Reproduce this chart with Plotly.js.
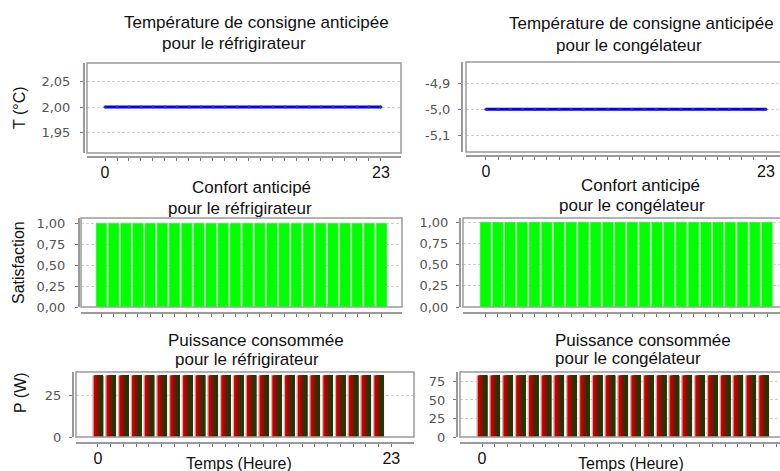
<!DOCTYPE html>
<html>
<head>
<meta charset="utf-8">
<script src="https://cdn.plot.ly/plotly-3.0.1.min.js"></script>
<style>html,body{margin:0;padding:0;background:#fff;}#chart{width:780px;height:471px;}</style>
</head>
<body>
<div id="chart"></div>
<script>
// ---------- data ----------
const hours = [0,1,2,3,4,5,6,7,8,9,10,11,12,13,14,15,16,17,18,19,20,21,22,23];
const powerHours = [0,1,2,3,4,5,6,7,8,9,10,11,12,13,14,15,16,17,18,19,20,21,22];
const tempFridge = [2.00,2.00,2.00,2.00,2.00,2.00,2.00,2.00,2.00,2.00,2.00,2.00,2.00,2.00,2.00,2.00,2.00,2.00,2.00,2.00,2.00,2.00,2.00,2.00];
const tempFreezer = [-5.0,-5.0,-5.0,-5.0,-5.0,-5.0,-5.0,-5.0,-5.0,-5.0,-5.0,-5.0,-5.0,-5.0,-5.0,-5.0,-5.0,-5.0,-5.0,-5.0,-5.0,-5.0,-5.0,-5.0];
const comfortFridge = [1,1,1,1,1,1,1,1,1,1,1,1,1,1,1,1,1,1,1,1,1,1,1,1];
const comfortFreezer = [1,1,1,1,1,1,1,1,1,1,1,1,1,1,1,1,1,1,1,1,1,1,1,1];
const powerFridge = [37,37,37,37,37,37,37,37,37,37,37,37,37,37,37,37,37,37,37,37,37,37,37];
const powerFreezer = [83,83,83,83,83,83,83,83,83,83,83,83,83,83,83,83,83,83,83,83,83,83,83];

// tick labels
const xTickLabelEnds = ['0','23'];
const tempFridgeTicks = [1.95, 2.00, 2.05];
const tempFridgeTickText = ['1,95','2,00','2,05'];
const tempFreezerTicks = [-5.1, -5.0, -4.9];
const tempFreezerTickText = ['-5,1','-5,0','-4,9'];
const comfortTicks = [0, 0.25, 0.5, 0.75, 1];
const comfortTickText = ['0,00','0,25','0,50','0,75','1,00'];
const powerFridgeTicks = [0, 25];
const powerFridgeTickText = ['0','25'];
const powerFreezerTicks = [0, 25, 50, 75];
const powerFreezerTickText = ['0','25','50','75'];

// titles
const titles = [
  ['Température de consigne anticipée', 'pour le réfrigirateur'],
  ['Température de consigne anticipée', 'pour le congélateur'],
  ['Confort anticipé', 'pour le réfrigirateur'],
  ['Confort anticipé', 'pour le congélateur'],
  ['Puissance consommée', 'pour le réfrigirateur'],
  ['Puissance consommée', 'pour le congélateur']
];
const yTitles = ['T (°C)', 'Satisfaction', 'P (W)'];
const xTitle = 'Temps (Heure)';

// ---------- layout helpers ----------
const W = 780, H = 471;
const px = v => v / W;
const py = v => 1 - v / H;

const TITLE_FONT = {family: 'Liberation Sans, Arial, sans-serif', size: 17, color: '#111'};
const AXT_FONT = {family: 'Liberation Sans, Arial, sans-serif', size: 16, color: '#111'};
const TICK_FONT = {family: 'DejaVu Sans, Verdana, sans-serif', size: 13, color: '#555'};
const FRAME = '#9a9a9a';

// panel geometry (pixels): box, y-axis line x, x-axis line y, ranges
const panels = [
  {box:[87,401,63,153],  yl:83,  xl:156, xr:[-1.5,24.67],  yr:[1.91,2.0864],   yt:tempFridgeTicks,  ytt:tempFridgeTickText,  xlabels:true,  so:7},
  {box:[466,800,62,152], yl:461, xl:155, xr:[-1.64,24.15], yr:[-5.164,-4.818], yt:tempFreezerTicks, ytt:tempFreezerTickText, xlabels:true,  so:5},
  {box:[81,402,218,307], yl:78,  xl:312, xr:[-1.68,24.68], yr:[0,1.06],        yt:comfortTicks,     ytt:comfortTickText,     xlabels:false, so:7},
  {box:[463,800,218,307],yl:459, xl:312, xr:[-1.84,24.06], yr:[0,1.047],       yt:comfortTicks,     ytt:comfortTickText,     xlabels:false, so:5},
  {box:[76,414,372,437], yl:72,  xl:442, xr:[-1.72,24.78], yr:[0,39.05],       yt:powerFridgeTicks, ytt:powerFridgeTickText, xlabels:true,  so:5},
  {box:[460,800,372,437],yl:456, xl:442, xr:[-1.72,23.29], yr:[0,87.7],        yt:powerFreezerTicks,ytt:powerFreezerTickText,xlabels:true,  so:5}
];

const layout = {
  width: W, height: H,
  margin: {l:0, r:0, t:0, b:0},
  paper_bgcolor: '#fff', plot_bgcolor: '#fff',
  showlegend: false, hovermode: false,
  barmode: 'overlay',
  shapes: [], annotations: []
};

const xTickText = hours.map(h => (h === 0 ? xTickLabelEnds[0] : (h === 23 ? xTickLabelEnds[1] : '')));

panels.forEach((p, i) => {
  const n = i + 1;
  const xk = 'xaxis' + (n === 1 ? '' : n);
  const yk = 'yaxis' + (n === 1 ? '' : n);
  const bx0 = p.box[0], bx1 = Math.min(p.box[1], W), by0 = p.box[2], by1 = p.box[3];
  layout[xk] = {
    domain: [px(bx0), px(bx1)], anchor: 'free', position: py(p.xl),
    range: p.xr, showgrid: false, zeroline: false,
    showline: true, linecolor: FRAME, linewidth: 1.5,
    ticks: 'outside', ticklen: 3, tickcolor: '#777', tickwidth: 1,
    tickmode: 'array', tickvals: hours, ticktext: xTickText,
    showticklabels: p.xlabels, ticklabelstandoff: -2,
    tickfont: {family: 'Liberation Sans, Arial, sans-serif', size: 16, color: '#111'}
  };
  layout[yk] = {
    domain: [py(by1), py(by0)], anchor: 'free', position: px(p.yl),
    range: p.yr, zeroline: false,
    showgrid: true, gridcolor: '#cfcfcf', gridwidth: 1, griddash: '3px,2px',
    showline: true, linecolor: FRAME, linewidth: 1.5,
    ticks: 'outside', ticklen: 3, tickcolor: '#777',
    tickmode: 'array', tickvals: p.yt, ticktext: p.ytt, ticklabelstandoff: p.so,
    tickfont: TICK_FONT
  };
  layout.shapes.push({type:'rect', xref:'paper', yref:'paper',
    x0: px(bx0), x1: px(p.box[1]), y0: py(by1), y1: py(by0),
    line:{color: FRAME, width: 1.5}, fillcolor:'rgba(0,0,0,0)', layer:'above'});
});

// titles (two lines each)
const titlePos = [
  [[256,23],[234,44]],
  [[641,23.5],[628.5,45.5]],
  [[251.7,187.5],[240,208]],
  [[640,185],[631.7,205]],
  [[255.8,340],[246.7,359]],
  [[642.5,340],[628,358]]
];
titles.forEach((t, i) => {
  t.forEach((line, j) => {
    layout.annotations.push({xref:'paper', yref:'paper', x: px(titlePos[i][j][0]), y: py(titlePos[i][j][1]),
      xanchor:'center', yanchor:'middle', text: line, showarrow:false, font: TITLE_FONT});
  });
});
// axis titles
[[yTitles[0],20,108],[yTitles[1],18,263],[yTitles[2],20,393]].forEach(a => {
  layout.annotations.push({xref:'paper', yref:'paper', x: px(a[1]), y: py(a[2]), xanchor:'center', yanchor:'middle',
    text: a[0], textangle: -90, showarrow:false, font: AXT_FONT});
});
[[239,463],[631,463]].forEach(a => {
  layout.annotations.push({xref:'paper', yref:'paper', x: px(a[0]), y: py(a[1]), xanchor:'center', yanchor:'middle',
    text: xTitle, showarrow:false, font: AXT_FONT});
});

// ---------- traces ----------
const traces = [];
traces.push({type:'scatter', mode:'lines+markers', x: hours, y: tempFridge, xaxis:'x', yaxis:'y',
  line:{color:'#0000ff', width:3}, marker:{size:3, color:'#2a2ab8'}});
traces.push({type:'scatter', mode:'lines+markers', x: hours, y: tempFreezer, xaxis:'x2', yaxis:'y2',
  line:{color:'#0000ff', width:3}, marker:{size:3, color:'#2a2ab8'}});
traces.push({type:'bar', x: hours, y: comfortFridge, xaxis:'x3', yaxis:'y3', width: 0.9, offset: -0.45,
  marker:{color:'#00ff00', line:{color:'#a8f0a8', width:0.6}}});
traces.push({type:'bar', x: hours, y: comfortFreezer, xaxis:'x4', yaxis:'y4', width: 0.9, offset: -0.45,
  marker:{color:'#00ff00', line:{color:'#a8f0a8', width:0.6}}});

// gradient bars (red -> dark green), stacked left-aligned overlays
const gradColors = ['#d8a8a8','#d00000','#c80000','#b40400','#960e00','#741a00','#542400','#3a2e00','#263600','#1c3a00','#1e3c02'];
function gradientBars(x, y, xa, ya, w) {
  traces.push({type:'bar', x: x, y: y, xaxis: xa, yaxis: ya, width: w + 0.08, offset: -(w + 0.08) / 2,
    marker:{color:'#cfc4c4', line:{width:0}}});
  const n = gradColors.length;
  const s = w / n;
  for (let k = 0; k < n; k++) {
    traces.push({type:'bar', x: x, y: y, xaxis: xa, yaxis: ya, width: w - k * s, offset: -w / 2 + k * s,
      marker:{color: gradColors[k], line:{width:0}}});
  }
}
gradientBars(powerHours, powerFridge, 'x5', 'y5', 0.8);
gradientBars(powerHours, powerFreezer, 'x6', 'y6', 0.8);

Plotly.newPlot('chart', traces, layout, {displayModeBar:false, staticPlot:true});
</script>
</body>
</html>
